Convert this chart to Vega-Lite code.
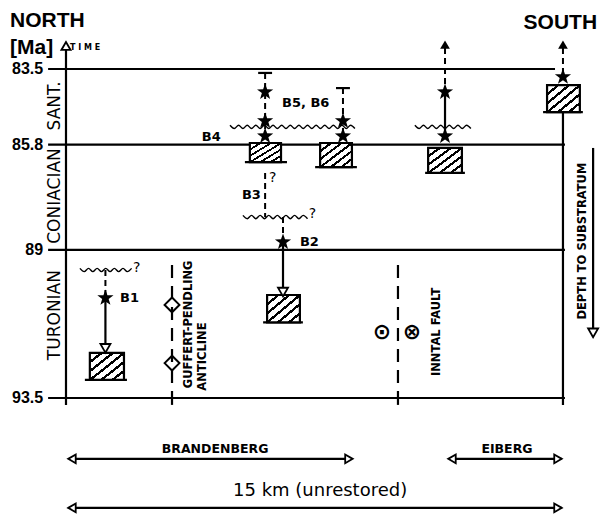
{
  "$schema": "https://vega.github.io/schema/vega-lite/v6.json",
  "width": 601,
  "height": 514,
  "autosize": "none",
  "padding": 0,
  "background": "white",
  "config": {"view": {"stroke": null}},
  "datasets": {
    "segs": [
      {"k":"s","x":-0.54,"x2":14.76,"y":83.5,"y2":83.5},
      {"k":"s","x":-0.54,"x2":15.06,"y":85.8,"y2":85.8},
      {"k":"s","x":-0.54,"x2":15.06,"y":89,"y2":89},
      {"k":"s","x":-0.54,"x2":15.06,"y":93.5,"y2":93.5},
      {"k":"s","x":0,"x2":0,"y":82.92,"y2":93.71},
      {"k":"s","x":1.19,"x2":1.19,"y":90.46,"y2":91.9},
      {"k":"s","x":6.55,"x2":6.55,"y":88.76,"y2":90.16},
      {"k":"s","x":11.44,"x2":11.44,"y":84.2,"y2":85.54},
      {"k":"s","x":15.0,"x2":15.0,"y":84.81,"y2":93.71},
      {"k":"s","x":15.91,"x2":15.91,"y":85.9,"y2":91.45},
      {"k":"s","x":3.2,"x2":3.2,"y":93.5,"y2":93.71},
      {"k":"s","x":10.02,"x2":10.02,"y":93.5,"y2":93.71},
      {"k":"s","x":5.8,"x2":6.22,"y":83.62,"y2":83.62},
      {"k":"s","x":8.15,"x2":8.57,"y":84.08,"y2":84.08},
      {"k":"s","x":0.57,"x2":1.84,"y":92.95,"y2":92.95},
      {"k":"s","x":5.95,"x2":7.15,"y":91.2,"y2":91.2},
      {"k":"s","x":5.4,"x2":6.67,"y":86.33,"y2":86.33},
      {"k":"s","x":7.52,"x2":8.78,"y":86.48,"y2":86.48},
      {"k":"s","x":10.84,"x2":12.04,"y":86.66,"y2":86.66},
      {"k":"s","x":14.4,"x2":15.6,"y":84.81,"y2":84.81},
      {"k":"s","x":0.1,"x2":8.6,"y":95.35,"y2":95.35},
      {"k":"s","x":11.57,"x2":14.96,"y":95.35,"y2":95.35},
      {"k":"s","x":0.1,"x2":14.96,"y":96.84,"y2":96.84},
      {"k":"d","x":1.19,"x2":1.19,"y":89.61,"y2":90.46},
      {"k":"d","x":6.55,"x2":6.55,"y":88.0,"y2":88.76},
      {"k":"d","x":6.01,"x2":6.01,"y":86.66,"y2":88.0},
      {"k":"d","x":6.01,"x2":6.01,"y":83.62,"y2":85.54},
      {"k":"d","x":8.36,"x2":8.36,"y":84.08,"y2":85.54},
      {"k":"d","x":11.44,"x2":11.44,"y":82.86,"y2":84.2},
      {"k":"d","x":15.0,"x2":15.0,"y":82.86,"y2":83.74},
      {"k":"L","x":3.2,"x2":3.2,"y":89.46,"y2":93.5},
      {"k":"L","x":10.02,"x2":10.02,"y":89.46,"y2":93.5}
    ],
    "boxes": [
      {"x":0.72,"x2":1.75,"y":92.13,"y2":92.95},
      {"x":6.07,"x2":7.06,"y":90.37,"y2":91.2},
      {"x":5.55,"x2":6.49,"y":85.75,"y2":86.33},
      {"x":7.67,"x2":8.63,"y":85.75,"y2":86.48},
      {"x":10.93,"x2":11.95,"y":85.9,"y2":86.66},
      {"x":14.52,"x2":15.51,"y":83.99,"y2":84.81}
    ],
    "waves": [
      {"id":"w1","x":0.42,"y":89.56},{"id":"w1","x":0.55,"y":89.66},{"id":"w1","x":0.68,"y":89.56},{"id":"w1","x":0.81,"y":89.66},{"id":"w1","x":0.94,"y":89.56},{"id":"w1","x":1.07,"y":89.66},{"id":"w1","x":1.20,"y":89.56},{"id":"w1","x":1.33,"y":89.66},{"id":"w1","x":1.46,"y":89.56},{"id":"w1","x":1.59,"y":89.66},{"id":"w1","x":1.72,"y":89.56},{"id":"w1","x":1.85,"y":89.66},{"id":"w1","x":1.98,"y":89.56},
      {"id":"w2","x":5.34,"y":87.95},{"id":"w2","x":5.47,"y":88.05},{"id":"w2","x":5.60,"y":87.95},{"id":"w2","x":5.73,"y":88.05},{"id":"w2","x":5.86,"y":87.95},{"id":"w2","x":5.99,"y":88.05},{"id":"w2","x":6.12,"y":87.95},{"id":"w2","x":6.25,"y":88.05},{"id":"w2","x":6.38,"y":87.95},{"id":"w2","x":6.51,"y":88.05},{"id":"w2","x":6.64,"y":87.95},{"id":"w2","x":6.77,"y":88.05},{"id":"w2","x":6.90,"y":87.95},{"id":"w2","x":7.03,"y":88.05},{"id":"w2","x":7.16,"y":87.95},{"id":"w2","x":7.29,"y":88.05},
      {"id":"w3","x":4.95,"y":85.21},{"id":"w3","x":5.08,"y":85.31},{"id":"w3","x":5.21,"y":85.21},{"id":"w3","x":5.34,"y":85.31},{"id":"w3","x":5.47,"y":85.21},{"id":"w3","x":5.60,"y":85.31},{"id":"w3","x":5.73,"y":85.21},{"id":"w3","x":5.86,"y":85.31},{"id":"w3","x":5.99,"y":85.21},{"id":"w3","x":6.12,"y":85.31},{"id":"w3","x":6.25,"y":85.21},{"id":"w3","x":6.38,"y":85.31},{"id":"w3","x":6.51,"y":85.21},{"id":"w3","x":6.64,"y":85.31},{"id":"w3","x":6.77,"y":85.21},{"id":"w3","x":6.90,"y":85.31},{"id":"w3","x":7.03,"y":85.21},{"id":"w3","x":7.16,"y":85.31},{"id":"w3","x":7.29,"y":85.21},{"id":"w3","x":7.42,"y":85.31},{"id":"w3","x":7.55,"y":85.21},{"id":"w3","x":7.68,"y":85.31},{"id":"w3","x":7.81,"y":85.21},{"id":"w3","x":7.94,"y":85.31},{"id":"w3","x":8.07,"y":85.21},{"id":"w3","x":8.20,"y":85.31},{"id":"w3","x":8.33,"y":85.21},{"id":"w3","x":8.46,"y":85.31},{"id":"w3","x":8.59,"y":85.21},{"id":"w3","x":8.72,"y":85.31},
      {"id":"w4","x":10.53,"y":85.21},{"id":"w4","x":10.66,"y":85.31},{"id":"w4","x":10.79,"y":85.21},{"id":"w4","x":10.92,"y":85.31},{"id":"w4","x":11.05,"y":85.21},{"id":"w4","x":11.18,"y":85.31},{"id":"w4","x":11.31,"y":85.21},{"id":"w4","x":11.44,"y":85.31},{"id":"w4","x":11.57,"y":85.21},{"id":"w4","x":11.70,"y":85.31},{"id":"w4","x":11.83,"y":85.21},{"id":"w4","x":11.96,"y":85.31},{"id":"w4","x":12.09,"y":85.21},{"id":"w4","x":12.22,"y":85.31}
    ],
    "pts": [
      {"k":"star","x":1.19,"y":90.46},{"k":"star","x":6.55,"y":88.76},{"k":"star","x":6.01,"y":84.2},{"k":"star","x":6.01,"y":85.08},{"k":"star","x":6.01,"y":85.54},{"k":"star","x":8.36,"y":85.08},{"k":"star","x":8.36,"y":85.54},{"k":"star","x":11.44,"y":84.2},{"k":"star","x":11.44,"y":85.54},{"k":"star","x":15.0,"y":83.74},
      {"k":"tdown","x":1.19,"y":91.99},{"k":"tdown","x":6.55,"y":90.28},{"k":"tdown","x":15.91,"y":91.52},
      {"k":"tup","x":11.44,"y":82.76},{"k":"tup","x":15.0,"y":82.76},
      {"k":"tupo","x":0,"y":82.8},
      {"k":"tl","x":0.18,"y":95.35},{"k":"tl","x":11.65,"y":95.35},{"k":"tl","x":0.18,"y":96.84},
      {"k":"tr","x":8.54,"y":95.35},{"k":"tr","x":14.85,"y":95.35},{"k":"tr","x":14.85,"y":96.84},
      {"k":"dia","x":3.2,"y":90.67},{"k":"dia","x":3.2,"y":92.44}
    ],
    "texts": [
      {"g":"hl","t":"NORTH","x":-1.69,"y":82.04},
      {"g":"hl","t":"[Ma]","x":-1.69,"y":82.86},
      {"g":"hr","t":"SOUTH","x":16.03,"y":82.09},
      {"g":"time","t":"T I M E","x":0.12,"y":82.85},
      {"g":"tick","t":"83.5","x":-0.69,"y":83.5},
      {"g":"tick","t":"85.8","x":-0.69,"y":85.8},
      {"g":"tick","t":"89","x":-0.69,"y":89},
      {"g":"tick","t":"93.5","x":-0.69,"y":93.5},
      {"g":"stage","t":"SANT.","x":-0.33,"y":84.62},
      {"g":"stage","t":"CONIACIAN","x":-0.33,"y":87.36},
      {"g":"stage","t":"TURONIAN","x":-0.33,"y":90.98},
      {"g":"labl","t":"B1","x":1.63,"y":90.46},
      {"g":"labl","t":"B2","x":7.06,"y":88.76},
      {"g":"labl","t":"B3","x":5.31,"y":87.33},
      {"g":"labl","t":"B4","x":4.1,"y":85.57},
      {"g":"labl","t":"B5, B6","x":6.52,"y":84.53},
      {"g":"q","t":"?","x":2.02,"y":89.55},
      {"g":"q","t":"?","x":6.13,"y":86.81},
      {"g":"q","t":"?","x":7.33,"y":87.91},
      {"g":"labc","t":"BRANDENBERG","x":4.5,"y":95.05},
      {"g":"labc","t":"EIBERG","x":13.31,"y":95.05},
      {"g":"km","t":"15 km (unrestored)","x":7.67,"y":96.33},
      {"g":"rot","t":"GUFFERT-PENDLING","x":3.71,"y":91.26},
      {"g":"rot","t":"ANTICLINE","x":4.14,"y":92.24},
      {"g":"rot","t":"INNTAL FAULT","x":11.2,"y":91.49},
      {"g":"rot","t":"DEPTH TO SUBSTRATUM","x":15.6,"y":88.73},
      {"g":"sym","t":"⊙","x":9.54,"y":91.49},
      {"g":"sym","t":"⊗","x":10.44,"y":91.49}
    ]
  },
  "encoding": {
    "x": {"field":"x","type":"quantitative","scale":{"domain":[-1.992,16.148],"nice":false,"zero":false},"axis":null},
    "y": {"field":"y","type":"quantitative","scale":{"domain":[81.403,97.026],"nice":false,"zero":false,"reverse":true},"axis":null}
  },
  "layer": [
    {"data":{"name":"segs"},"transform":[{"filter":"datum.k=='s'"}],
     "mark":{"type":"rule","color":"black","strokeWidth":2.2},
     "encoding":{"x2":{"field":"x2"},"y2":{"field":"y2"}}},
    {"data":{"name":"segs"},"transform":[{"filter":"datum.k=='d'"}],
     "mark":{"type":"rule","color":"black","strokeWidth":2,"strokeDash":[6,4]},
     "encoding":{"x2":{"field":"x2"},"y2":{"field":"y2"}}},
    {"data":{"name":"segs"},"transform":[{"filter":"datum.k=='L'"}],
     "mark":{"type":"rule","color":"black","strokeWidth":2.2,"strokeDash":[13,8]},
     "encoding":{"x2":{"field":"x2"},"y2":{"field":"y2"}}},
    {"data":{"name":"boxes"},
     "mark":{"type":"rect","stroke":"black","strokeWidth":2.2,
       "fill":{"gradient":"linear","x1":0,"y1":0,"x2":1,"y2":1,"stops":[
         {"offset":0,"color":"white"},{"offset":0.145,"color":"white"},{"offset":0.145,"color":"black"},{"offset":0.2,"color":"black"},{"offset":0.2,"color":"white"},
         {"offset":0.31,"color":"white"},{"offset":0.31,"color":"black"},{"offset":0.365,"color":"black"},{"offset":0.365,"color":"white"},
         {"offset":0.475,"color":"white"},{"offset":0.475,"color":"black"},{"offset":0.53,"color":"black"},{"offset":0.53,"color":"white"},
         {"offset":0.64,"color":"white"},{"offset":0.64,"color":"black"},{"offset":0.695,"color":"black"},{"offset":0.695,"color":"white"},
         {"offset":0.805,"color":"white"},{"offset":0.805,"color":"black"},{"offset":0.86,"color":"black"},{"offset":0.86,"color":"white"},
         {"offset":1,"color":"white"}]}},
     "encoding":{"x2":{"field":"x2"},"y2":{"field":"y2"}}},
    {"data":{"name":"waves"},
     "mark":{"type":"line","color":"black","strokeWidth":1.4,"interpolate":"cardinal"},
     "encoding":{"detail":{"field":"id"}}},
    {"data":{"name":"pts"},"transform":[{"filter":"datum.k=='dia'"}],
     "mark":{"type":"point","shape":"diamond","size":220,"filled":false,"color":"black","strokeWidth":2,"opacity":1}},
    {"data":{"name":"pts"},"transform":[{"filter":"datum.k=='star'"}],
     "mark":{"type":"point","shape":"M0,-1L0.235,-0.324L0.951,-0.309L0.38,0.124L0.588,0.809L0,0.4L-0.588,0.809L-0.38,0.124L-0.951,-0.309L-0.235,-0.324Z","size":290,"filled":true,"color":"black","opacity":1}},
    {"data":{"name":"pts"},"transform":[{"filter":"datum.k=='tdown'"}],
     "mark":{"type":"point","shape":"triangle-down","size":100,"filled":true,"fill":"white","stroke":"black","strokeWidth":1.8,"opacity":1}},
    {"data":{"name":"pts"},"transform":[{"filter":"datum.k=='tup'"}],
     "mark":{"type":"point","shape":"triangle-up","size":95,"filled":true,"color":"black","opacity":1}},
    {"data":{"name":"pts"},"transform":[{"filter":"datum.k=='tupo'"}],
     "mark":{"type":"point","shape":"triangle-up","size":85,"filled":true,"fill":"white","stroke":"black","strokeWidth":1.8,"opacity":1}},
    {"data":{"name":"pts"},"transform":[{"filter":"datum.k=='tl'"}],
     "mark":{"type":"point","shape":"triangle-left","size":75,"filled":true,"fill":"white","stroke":"black","strokeWidth":1.8,"opacity":1}},
    {"data":{"name":"pts"},"transform":[{"filter":"datum.k=='tr'"}],
     "mark":{"type":"point","shape":"triangle-right","size":75,"filled":true,"fill":"white","stroke":"black","strokeWidth":1.8,"opacity":1}},
    {"data":{"name":"texts"},"transform":[{"filter":"datum.g=='hl'"}],
     "mark":{"type":"text","font":"Liberation Sans","fontWeight":"bold","fontSize":21,"align":"left","baseline":"middle","color":"black"},
     "encoding":{"text":{"field":"t"}}},
    {"data":{"name":"texts"},"transform":[{"filter":"datum.g=='hr'"}],
     "mark":{"type":"text","font":"Liberation Sans","fontWeight":"bold","fontSize":21,"align":"right","baseline":"middle","color":"black"},
     "encoding":{"text":{"field":"t"}}},
    {"data":{"name":"texts"},"transform":[{"filter":"datum.g=='time'"}],
     "mark":{"type":"text","font":"DejaVu Sans","fontWeight":"bold","fontSize":8,"align":"left","baseline":"middle","color":"black"},
     "encoding":{"text":{"field":"t"}}},
    {"data":{"name":"texts"},"transform":[{"filter":"datum.g=='tick'"}],
     "mark":{"type":"text","font":"Liberation Sans","fontWeight":"bold","fontSize":16,"align":"right","baseline":"middle","color":"black"},
     "encoding":{"text":{"field":"t"}}},
    {"data":{"name":"texts"},"transform":[{"filter":"datum.g=='stage'"}],
     "mark":{"type":"text","font":"DejaVu Sans","fontSize":17,"angle":270,"align":"center","baseline":"middle","color":"black"},
     "encoding":{"text":{"field":"t"}}},
    {"data":{"name":"texts"},"transform":[{"filter":"datum.g=='labl'"}],
     "mark":{"type":"text","font":"DejaVu Sans","fontWeight":"bold","fontSize":13,"align":"left","baseline":"middle","color":"black"},
     "encoding":{"text":{"field":"t"}}},
    {"data":{"name":"texts"},"transform":[{"filter":"datum.g=='labc'"}],
     "mark":{"type":"text","font":"DejaVu Sans","fontWeight":"bold","fontSize":12.5,"align":"center","baseline":"middle","color":"black"},
     "encoding":{"text":{"field":"t"}}},
    {"data":{"name":"texts"},"transform":[{"filter":"datum.g=='q'"}],
     "mark":{"type":"text","font":"DejaVu Sans","fontSize":14,"align":"left","baseline":"middle","color":"black"},
     "encoding":{"text":{"field":"t"}}},
    {"data":{"name":"texts"},"transform":[{"filter":"datum.g=='km'"}],
     "mark":{"type":"text","font":"DejaVu Sans","fontSize":18,"align":"center","baseline":"middle","color":"black"},
     "encoding":{"text":{"field":"t"}}},
    {"data":{"name":"texts"},"transform":[{"filter":"datum.g=='rot'"}],
     "mark":{"type":"text","font":"DejaVu Sans","fontWeight":"bold","fontSize":11.5,"angle":270,"align":"center","baseline":"middle","color":"black"},
     "encoding":{"text":{"field":"t"}}},
    {"data":{"name":"texts"},"transform":[{"filter":"datum.g=='sym'"}],
     "mark":{"type":"text","font":"DejaVu Sans","fontWeight":"bold","fontSize":22,"align":"center","baseline":"middle","color":"black"},
     "encoding":{"text":{"field":"t"}}}
  ]
}
